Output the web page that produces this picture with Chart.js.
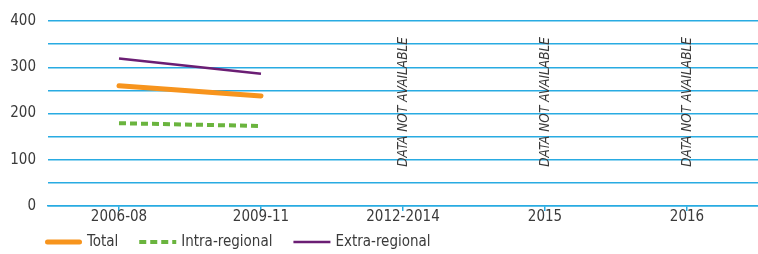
<!DOCTYPE html>
<html>
<head>
<meta charset="utf-8">
<script src="https://cdn.jsdelivr.net/npm/chart.js@4/dist/chart.umd.min.js"></script>
<style>
  html, body { margin: 0; padding: 0; background: #fff; }
  #wrap { width: 758px; height: 254px; position: relative; }
</style>
</head>
<body>
<div id="wrap"><canvas id="c"></canvas></div>
<script>
// data
const periods = ['2006-08', '2009-11', '2012-2014', '2015', '2016'];
const totalVals = [260, 238, null, null, null];
const intraVals = [179, 173, null, null, null];
const extraVals = [319, 286, null, null, null];
const missingNote = 'DATA NOT AVAILABLE';
const missingAt = ['2012-2014', '2015', '2016'];

const FONT = '"Liberation Sans Narrow", "DejaVu Sans Condensed", "Arial Narrow", sans-serif';
const GRID = '#29abe2';
const TEXT = '#3a3a3a';

// rotated "not available" notes at the empty periods
const noteLabels = {
  id: 'noteLabels',
  afterDatasetsDraw(chart) {
    const { ctx, scales: { x, y } } = chart;
    ctx.save();
    ctx.fillStyle = TEXT;
    ctx.font = 'italic 13.5px ' + FONT;
    ctx.textAlign = 'center';
    ctx.textBaseline = 'middle';
    missingAt.forEach(p => {
      const px = x.getPixelForValue(periods.indexOf(p));
      ctx.save();
      ctx.translate(px, y.getPixelForValue(225));
      ctx.rotate(-Math.PI / 2);
      ctx.fillText(missingNote, 0, 0);
      ctx.restore();
    });
    ctx.restore();
  }
};

// legend row at the bottom-left, drawn from the dataset styles
const bottomLegend = {
  id: 'bottomLegend',
  afterDraw(chart) {
    const { ctx } = chart;
    const rowY = 242;
    let cx = 45;
    ctx.save();
    ctx.font = '15px ' + FONT;
    ctx.textBaseline = 'middle';
    ctx.textAlign = 'left';
    chart.data.datasets.forEach(ds => {
      ctx.beginPath();
      ctx.strokeStyle = ds.borderColor;
      ctx.lineWidth = ds.borderWidth;
      ctx.lineCap = ds.borderCapStyle || 'butt';
      ctx.setLineDash(ds.borderDash || []);
      const pad = ctx.lineCap === 'round' ? ds.borderWidth / 2 : 0;
      ctx.moveTo(cx + pad, rowY);
      ctx.lineTo(cx + 37 - pad, rowY);
      ctx.stroke();
      ctx.setLineDash([]);
      ctx.fillStyle = TEXT;
      ctx.fillText(ds.label, cx + 42, rowY);
      cx += 42 + ctx.measureText(ds.label).width + 21;
    });
    ctx.restore();
  }
};

new Chart(document.getElementById('c'), {
  type: 'line',
  data: {
    labels: periods,
    datasets: [
      { label: 'Total', data: totalVals, borderColor: '#f7941d', backgroundColor: '#f7941d',
        borderWidth: 5, borderCapStyle: 'round', pointRadius: 0 },
      { label: 'Intra-regional', data: intraVals, borderColor: '#6ab43e', backgroundColor: '#6ab43e',
        borderWidth: 4, borderDash: [7, 4], pointRadius: 0 },
      { label: 'Extra-regional', data: extraVals, borderColor: '#6b1e74', backgroundColor: '#6b1e74',
        borderWidth: 2.5, pointRadius: 0 }
    ]
  },
  options: {
    responsive: true,
    maintainAspectRatio: false,
    animation: false,
    layout: { padding: { top: 16, right: 0, left: 0, bottom: 30 } },
    plugins: {
      tooltip: { enabled: false },
      legend: { display: false }
    },
    scales: {
      x: {
        offset: true,
        border: { color: GRID, width: 1.5 },
        grid: { offset: false, drawOnChartArea: false, color: GRID, tickLength: 5, lineWidth: 1.5 },
        ticks: { color: TEXT, font: { family: FONT, size: 15, lineHeight: 1 }, padding: -1, maxRotation: 0 }
      },
      y: {
        min: 0,
        max: 400,
        afterFit(scale) { scale.width = 48; },
        border: { display: false },
        grid: { color: GRID, lineWidth: 1.5, drawTicks: false },
        ticks: {
          stepSize: 50,
          autoSkip: false,
          padding: 12,
          color: TEXT,
          font: { family: FONT, size: 15 },
          callback: v => (v % 100 === 0 ? v : '')
        }
      }
    }
  },
  plugins: [noteLabels, bottomLegend]
});
</script>
</body>
</html>
